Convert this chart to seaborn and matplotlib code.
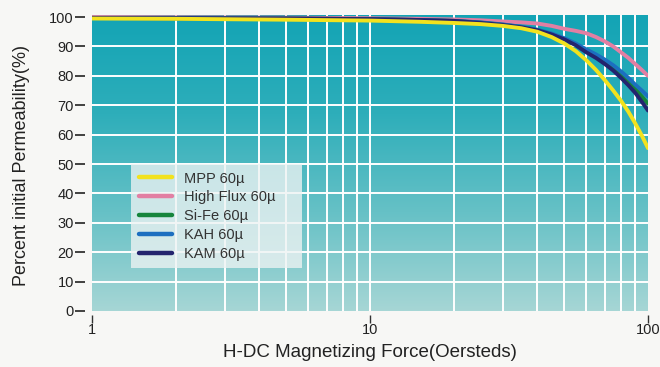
import numpy as np
import pandas as pd
import matplotlib
matplotlib.use("Agg")
import matplotlib.pyplot as plt
import seaborn as sns
from matplotlib.ticker import FixedLocator, NullFormatter
from matplotlib.colors import LinearSegmentedColormap

# ---- data ----
h_force = [1, 2, 5, 10, 15, 20, 25, 30, 35, 40, 45, 50, 55, 60, 65, 70, 75, 80, 85, 90, 95, 100]
mpp = [99.5, 99.4, 99.1, 98.8, 98.4, 98.0, 97.6, 97.0, 96.2, 95.0, 93.2, 91.0, 88.4, 85.3,
       82.0, 78.5, 75.0, 71.5, 67.8, 63.8, 59.7, 55.4]
high_flux = [100.0, 99.9, 99.8, 99.6, 99.4, 99.2, 98.9, 98.5, 98.2, 97.8, 97.0, 96.0, 95.3,
             94.5, 93.2, 91.7, 90.0, 88.0, 86.1, 84.0, 82.0, 80.0]
si_fe = [99.7, 99.6, 99.5, 99.3, 99.0, 98.7, 98.1, 97.4, 96.6, 95.6, 94.2, 92.6, 90.7, 88.5,
         86.7, 84.7, 82.6, 80.3, 78.0, 75.5, 73.0, 70.5]
kah = [99.7, 99.6, 99.5, 99.3, 99.0, 98.7, 98.2, 97.5, 96.7, 95.7, 94.4, 92.8, 91.0, 89.0,
       87.3, 85.5, 83.6, 81.5, 79.3, 77.0, 75.0, 73.0]
kam = [99.7, 99.6, 99.5, 99.3, 99.0, 98.7, 98.0, 97.3, 96.5, 95.5, 94.1, 92.4, 90.4, 88.0,
       86.1, 84.0, 81.8, 79.3, 76.8, 74.2, 71.2, 68.2]
series_names = ["MPP 60µ", "High Flux 60µ", "Si-Fe 60µ", "KAH 60µ", "KAM 60µ"]
series_colors = ["#f2e21e", "#e27fa3", "#17853c", "#1c6fc0", "#23246e"]
y_ticks = [0, 10, 20, 30, 40, 50, 60, 70, 80, 90, 100]
x_ticks = [1, 10, 100]

rows = []
for name, vals in zip(series_names, [mpp, high_flux, si_fe, kah, kam]):
    for x, v in zip(h_force, vals):
        rows.append({"H": x, "Perm": v, "Material": name})
df = pd.DataFrame(rows)

sns.set_theme(style="white")
plt.rcParams["font.family"] = ["Liberation Sans", "DejaVu Sans"]

fig = plt.figure(figsize=(6.6, 3.67), dpi=100, facecolor="#f7f7f5")
ax = fig.add_axes([92 / 660, 1 - 311 / 367, 556 / 660, 296 / 367])

# gradient background
cmap = LinearSegmentedColormap.from_list(
    "bg", ["#a6d6d5", "#66c1c6", "#2eaeba", "#13a4b5"])
grad = np.linspace(0, 1, 256).reshape(-1, 1)
ax.imshow(grad, aspect="auto", cmap=cmap, origin="lower",
          extent=[0, 1, 0, 1], transform=ax.transAxes, zorder=0)

sns.lineplot(data=df, x="H", y="Perm", hue="Material", palette=series_colors,
             hue_order=series_names, linewidth=2.8, ax=ax, zorder=3,
             legend=True)
# yellow MPP curve sits on top where curves overlap
ax.lines[0].set_zorder(4)

ax.set_xscale("log")
ax.set_xlim(1, 100)
ax.set_ylim(0, 100.7)

# grid
minor_x = [v * d for d in (1, 10) for v in range(2, 10)]
for xv in minor_x + [10]:
    ax.axvline(xv, color="white", lw=1.4, zorder=1)
for yv in y_ticks[1:-1]:
    ax.axhline(yv, color="white", lw=1.4, zorder=1)

for s in ax.spines.values():
    s.set_visible(False)
ax.spines["left"].set_position(("outward", 5))
ax.spines["bottom"].set_position(("outward", 3))

ax.xaxis.set_major_locator(FixedLocator(x_ticks))
ax.set_xticklabels([str(v) for v in x_ticks])
ax.xaxis.set_minor_formatter(NullFormatter())
ax.tick_params(axis="x", which="minor", length=0)
ax.set_yticks(y_ticks)
ax.set_yticklabels([str(v) for v in y_ticks])
ax.tick_params(axis="y", which="major", direction="out", length=7, width=1.3,
               color="#333333", labelcolor="#222222", labelsize=10.5, pad=1,
               left=True)
ax.tick_params(axis="x", which="major", direction="out", length=6, width=1.0,
               color="#333333", labelcolor="#222222", labelsize=10.5, pad=0,
               bottom=True)

ax.set_xlabel("H-DC Magnetizing Force(Oersteds)", fontsize=13.5, color="#222222",
              labelpad=5)
ax.set_ylabel("Percent initial Permeability(%)", fontsize=13, color="#222222")
ax.yaxis.set_label_coords(-0.112, 0.49)

handles, labels = ax.get_legend_handles_labels()
for h in handles:
    h.set_linewidth(3.2)
leg = ax.legend(handles, labels, loc="lower left",
                bbox_to_anchor=(0.071, 0.145, 0.307, 0.355), mode="expand",
                borderaxespad=0,
                fontsize=10.5, frameon=True, fancybox=False,
                handlelength=2.3, handletextpad=0.8, labelspacing=0.33,
                borderpad=0.5)
frame = leg.get_frame()
frame.set_facecolor("#eef3f3")
frame.set_alpha(0.78)
frame.set_edgecolor("none")
for t in leg.get_texts():
    t.set_color("#333333")
leg.set_zorder(5)

fig.savefig("out.png", dpi=100, facecolor=fig.get_facecolor())
